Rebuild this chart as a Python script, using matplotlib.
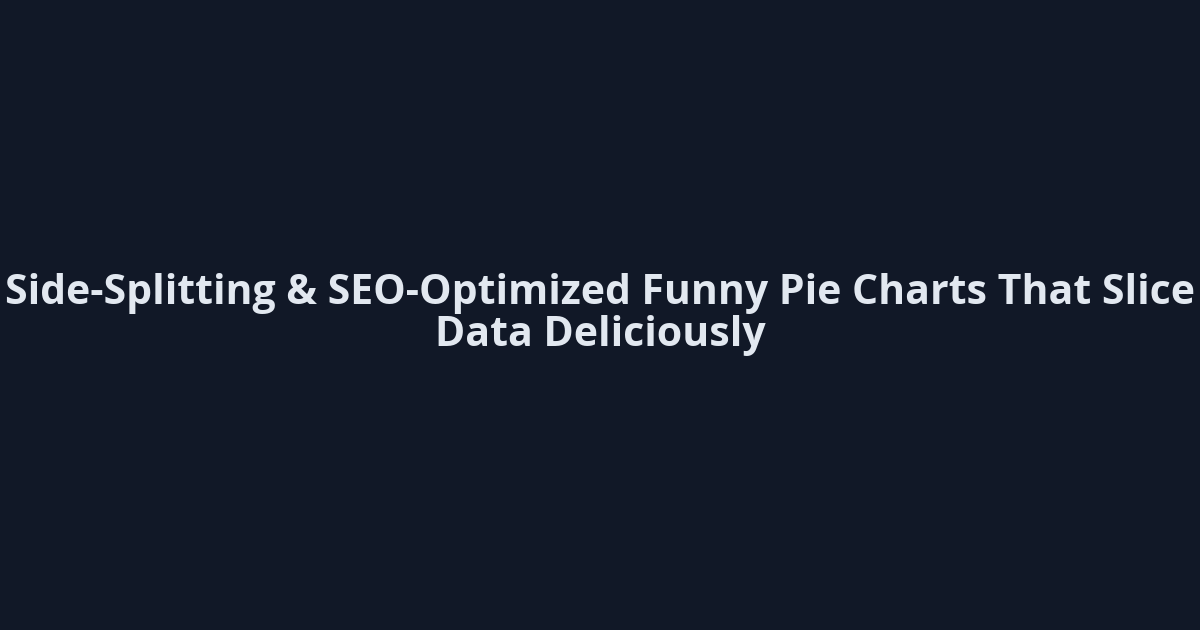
import matplotlib
matplotlib.use('Agg')
import matplotlib.pyplot as plt

# title card, nothing but text on a dark background
title_lines = ['Side-Splitting & SEO-Optimized Funny Pie Charts That Slice',
               'Data Deliciously']
line_y = [294, 336]  # pixel centres, measured from top

bg = '#111827'
fg = '#e2e8f0'

fig = plt.figure(figsize=(12, 6.3), dpi=100, facecolor=bg)
ax = fig.add_axes([0, 0, 1, 1])
ax.set_facecolor(bg)
ax.set_xlim(0, 1200)
ax.set_ylim(630, 0)
ax.axis('off')

for txt, y in zip(title_lines, line_y):
    ax.text(600, y, txt, ha='center', va='center', color=fg,
            fontsize=29.5, fontweight='bold', family=['Open Sans', 'DejaVu Sans'])

fig.savefig('out.png', dpi=100, facecolor=bg)
